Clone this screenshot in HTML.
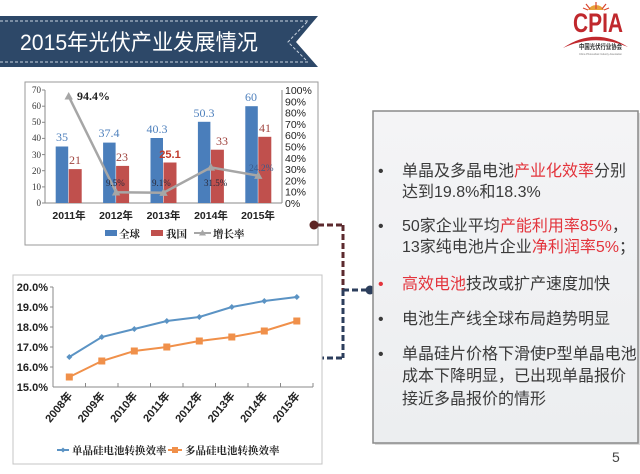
<!DOCTYPE html>
<html>
<head>
<meta charset="utf-8">
<style>
html,body{margin:0;padding:0;background:#fff;}
svg{display:block;}
.cj{font-family:"Liberation Sans","Noto Sans CJK SC",sans-serif;}
.sf{font-family:"Liberation Serif","Noto Serif CJK SC",serif;}
</style>
</head>
<body>
<svg width="640" height="474" viewBox="0 0 640 474" xmlns="http://www.w3.org/2000/svg">
<defs>
<linearGradient id="bg" x1="0" y1="0" x2="0" y2="1">
<stop offset="0" stop-color="#f4f4f6"/>
<stop offset="1" stop-color="#eceef0"/>
</linearGradient>
</defs>
<rect width="640" height="474" fill="#fff"/>

<!-- Banner -->
<polygon points="0,16 318,16 296,42 318,67 0,67" fill="#2d4868"/>
<line x1="0" y1="21" x2="308" y2="21" stroke="#c9d3df" stroke-width="1" stroke-dasharray="3,2"/>
<line x1="0" y1="62" x2="308" y2="62" stroke="#c9d3df" stroke-width="1" stroke-dasharray="3,2"/>
<polyline points="307,22 288,42 307,61" fill="none" stroke="#c9d3df" stroke-width="1" stroke-dasharray="3,2"/>
<text x="20" y="50" class="cj" font-size="22" fill="#fff" textLength="238" lengthAdjust="spacingAndGlyphs">2015年光伏产业发展情况</text>

<!-- Logo -->
<g>
<path d="M588,10 A9,9 0 0 1 604,10 Z" fill="#e8a33a"/>
<g stroke="#d9452f" stroke-width="1.2">
<line x1="596" y1="9" x2="596" y2="2"/>
<line x1="590" y1="9" x2="586" y2="4"/>
<line x1="602" y1="9" x2="606" y2="4"/>
<line x1="588" y1="10" x2="583" y2="8"/>
<line x1="604" y1="10" x2="609" y2="8"/>
</g>
<text x="573" y="32" font-family="Liberation Sans,sans-serif" font-weight="bold" font-size="27" fill="#c0282d" textLength="50" lengthAdjust="spacingAndGlyphs">CPIA</text>
<path d="M563,48 Q595,26 628,47 Q595,33 563,48 Z" fill="#c0282d"/>
<text x="579" y="49" class="cj" font-size="7" font-weight="bold" fill="#333" textLength="43" lengthAdjust="spacingAndGlyphs">中国光伏行业协会</text>
<text x="579" y="55" font-family="Liberation Sans,sans-serif" font-size="3" fill="#777" textLength="43" lengthAdjust="spacingAndGlyphs">China Photovoltaic Industry Association</text>
</g>

<!-- Top chart -->
<rect x="25" y="82" width="293" height="163" fill="#fff" stroke="#9a9a9a" stroke-width="1"/>
<g font-family="Liberation Serif,serif" font-size="9" fill="#333" text-anchor="end">
<text x="41" y="206">0</text>
<text x="41" y="190">10</text>
<text x="41" y="174">20</text>
<text x="41" y="158">30</text>
<text x="41" y="141">40</text>
<text x="41" y="125">50</text>
<text x="41" y="109">60</text>
<text x="41" y="93">70</text>
</g>
<g stroke="#888" stroke-width="1">
<line x1="45" y1="90" x2="45" y2="203"/>
<line x1="282" y1="90" x2="282" y2="203"/>
<line x1="45" y1="203" x2="282" y2="203"/>
<line x1="42" y1="203" x2="45" y2="203"/><line x1="42" y1="186.9" x2="45" y2="186.9"/><line x1="42" y1="170.7" x2="45" y2="170.7"/><line x1="42" y1="154.6" x2="45" y2="154.6"/><line x1="42" y1="138.4" x2="45" y2="138.4"/><line x1="42" y1="122.3" x2="45" y2="122.3"/><line x1="42" y1="106.2" x2="45" y2="106.2"/><line x1="42" y1="90" x2="45" y2="90"/>
</g>
<g font-family="Liberation Sans,sans-serif" font-size="10.5" fill="#222">
<text x="285" y="207">0%</text>
<text x="285" y="195.7">10%</text>
<text x="285" y="184.4">20%</text>
<text x="285" y="173.1">30%</text>
<text x="285" y="161.8">40%</text>
<text x="285" y="150.5">50%</text>
<text x="285" y="139.2">60%</text>
<text x="285" y="127.9">70%</text>
<text x="285" y="116.6">80%</text>
<text x="285" y="105.3">90%</text>
<text x="285" y="94">100%</text>
</g>
<!-- bars -->
<g fill="#4a7ebb">
<rect x="55.7" y="146.5" width="12.5" height="56.5"/>
<rect x="103.1" y="142.6" width="12.5" height="60.4"/>
<rect x="150.5" y="138" width="12.5" height="65"/>
<rect x="197.9" y="121.8" width="12.5" height="81.2"/>
<rect x="245.3" y="106.2" width="12.5" height="96.8"/>
</g>
<g fill="#c0504d">
<rect x="68.7" y="169.1" width="13" height="33.9"/>
<rect x="116.1" y="165.9" width="13" height="37.1"/>
<rect x="163.5" y="162.5" width="13" height="40.5"/>
<rect x="210.9" y="149.7" width="13" height="53.3"/>
<rect x="258.3" y="136.8" width="13" height="66.2"/>
</g>
<g class="sf" font-size="12" fill="#4f81bd" text-anchor="middle">
<text x="62" y="141">35</text>
<text x="109" y="137">37.4</text>
<text x="157" y="133">40.3</text>
<text x="204" y="117">50.3</text>
<text x="251" y="101">60</text>
</g>
<g class="sf" font-size="12" fill="#a0443f" text-anchor="middle">
<text x="75" y="164">21</text>
<text x="122" y="161">23</text>
<text x="222" y="145">33</text>
<text x="265" y="132">41</text>
</g>
<text x="170" y="158" font-family="Liberation Sans,sans-serif" font-weight="bold" font-size="11" fill="#c0392b" text-anchor="middle">25.1</text>
<!-- growth line -->
<polyline points="68.7,96.3 116.1,192.3 163.5,192.7 210.9,167.4 258.3,175.7" fill="none" stroke="#a6a6a6" stroke-width="2.5"/>
<g fill="#a6a6a6">
<polygon points="68.7,92 64.5,99.5 72.9,99.5"/>
<polygon points="116.1,188 111.9,195.5 120.3,195.5"/>
<polygon points="163.5,188.4 159.3,195.9 167.7,195.9"/>
<polygon points="210.9,163.1 206.7,170.6 215.1,170.6"/>
<polygon points="258.3,171.4 254.1,178.9 262.5,178.9"/>
</g>
<text x="77" y="100" class="sf" font-weight="bold" font-size="12" fill="#222">94.4%</text>
<g class="sf" font-size="9" fill="#2a2a3a">
<text x="106" y="186">9.5%</text>
<text x="152" y="186">9.1%</text>
<text x="204" y="186">31.5%</text>
</g>
<text x="249" y="171" class="sf" font-size="9.5" fill="#3a5a8a">24.2%</text>
<!-- categories -->
<g font-family="Liberation Sans,'Noto Sans CJK SC',sans-serif" font-weight="bold" font-size="10.5" fill="#222" text-anchor="middle">
<text x="69" y="219">2011年</text>
<text x="116" y="219">2012年</text>
<text x="163.5" y="219">2013年</text>
<text x="211" y="219">2014年</text>
<text x="258" y="219">2015年</text>
</g>
<!-- legend -->
<rect x="105" y="230" width="12" height="6" fill="#4a7ebb"/>
<text x="119" y="237.5" class="sf" font-weight="bold" font-size="10.5" fill="#222">全球</text>
<rect x="151" y="230" width="12" height="6" fill="#c0504d"/>
<text x="166" y="237.5" class="sf" font-weight="bold" font-size="10.5" fill="#222">我国</text>
<line x1="194" y1="233" x2="211" y2="233" stroke="#a6a6a6" stroke-width="2"/>
<polygon points="202.5,229.5 199,235.5 206,235.5" fill="#a6a6a6"/>
<text x="213" y="237.5" class="sf" font-weight="bold" font-size="10.5" fill="#222">增长率</text>

<!-- Connector -->
<g fill="none" stroke-width="3" stroke-dasharray="6,3">
<line x1="318" y1="225" x2="343" y2="225" stroke="#5c2a2e"/>
<line x1="343" y1="225" x2="343" y2="290" stroke="#5c2a2e"/>
<line x1="343" y1="290" x2="343" y2="358" stroke="#2c3e5c"/>
<line x1="343" y1="290" x2="368" y2="290" stroke="#2c3e5c"/>
<line x1="318" y1="358" x2="343" y2="358" stroke="#2c3e5c"/>
</g>
<circle cx="314" cy="225" r="4.5" fill="#5c2424"/>
<circle cx="370" cy="290" r="4.5" fill="#2c3e5c"/>
<circle cx="314" cy="358" r="4.5" fill="#2c3e5c"/>

<!-- Bottom chart -->
<rect x="13" y="275" width="309" height="189" fill="#fff" stroke="#c4c4c4" stroke-width="1"/>
<g font-family="Liberation Sans,sans-serif" font-weight="bold" font-size="11" fill="#222" text-anchor="end">
<text x="48" y="291">20.0%</text>
<text x="48" y="311">19.0%</text>
<text x="48" y="331">18.0%</text>
<text x="48" y="351">17.0%</text>
<text x="48" y="371">16.0%</text>
<text x="48" y="391">15.0%</text>
</g>
<g stroke="#888" stroke-width="1">
<line x1="53" y1="287" x2="53" y2="387"/>
<line x1="53" y1="387" x2="313" y2="387"/>
<line x1="50" y1="287" x2="53" y2="287"/><line x1="50" y1="307" x2="53" y2="307"/><line x1="50" y1="327" x2="53" y2="327"/><line x1="50" y1="347" x2="53" y2="347"/><line x1="50" y1="367" x2="53" y2="367"/>
<line x1="85.5" y1="383" x2="85.5" y2="387"/><line x1="118" y1="383" x2="118" y2="387"/><line x1="150.5" y1="383" x2="150.5" y2="387"/><line x1="183" y1="383" x2="183" y2="387"/><line x1="215.5" y1="383" x2="215.5" y2="387"/><line x1="248" y1="383" x2="248" y2="387"/><line x1="280.5" y1="383" x2="280.5" y2="387"/><line x1="313" y1="383" x2="313" y2="387"/>
</g>
<polyline points="69.3,357 101.8,337 134.3,329 166.8,321 199.3,317 231.8,307 264.3,301 296.8,297" fill="none" stroke="#5b93c4" stroke-width="2"/>
<g fill="#5b93c4">
<polygon points="69.3,354 72.3,357 69.3,360 66.3,357"/>
<polygon points="101.8,334 104.8,337 101.8,340 98.8,337"/>
<polygon points="134.3,326 137.3,329 134.3,332 131.3,329"/>
<polygon points="166.8,318 169.8,321 166.8,324 163.8,321"/>
<polygon points="199.3,314 202.3,317 199.3,320 196.3,317"/>
<polygon points="231.8,304 234.8,307 231.8,310 228.8,307"/>
<polygon points="264.3,298 267.3,301 264.3,304 261.3,301"/>
<polygon points="296.8,294 299.8,297 296.8,300 293.8,297"/>
</g>
<polyline points="69.3,377 101.8,361 134.3,351 166.8,347 199.3,341 231.8,337 264.3,331 296.8,321" fill="none" stroke="#f0904a" stroke-width="2"/>
<g fill="#f0904a">
<rect x="65.8" y="373.5" width="7" height="7"/>
<rect x="98.3" y="357.5" width="7" height="7"/>
<rect x="130.8" y="347.5" width="7" height="7"/>
<rect x="163.3" y="343.5" width="7" height="7"/>
<rect x="195.8" y="337.5" width="7" height="7"/>
<rect x="228.3" y="333.5" width="7" height="7"/>
<rect x="260.8" y="327.5" width="7" height="7"/>
<rect x="293.3" y="317.5" width="7" height="7"/>
</g>
<g font-family="Liberation Sans,'Noto Sans CJK SC',sans-serif" font-weight="bold" font-size="11" fill="#222" text-anchor="end">
<text transform="translate(73,396) rotate(-50)">2008年</text>
<text transform="translate(105.5,396) rotate(-50)">2009年</text>
<text transform="translate(138,396) rotate(-50)">2010年</text>
<text transform="translate(170.5,396) rotate(-50)">2011年</text>
<text transform="translate(203,396) rotate(-50)">2012年</text>
<text transform="translate(235.5,396) rotate(-50)">2013年</text>
<text transform="translate(268,396) rotate(-50)">2014年</text>
<text transform="translate(300.5,396) rotate(-50)">2015年</text>
</g>
<line x1="57" y1="450" x2="69" y2="450" stroke="#5b93c4" stroke-width="2"/>
<polygon points="63,447.5 65.5,450 63,452.5 60.5,450" fill="#5b93c4"/>
<text x="72" y="454" class="sf" font-weight="bold" font-size="10.5" fill="#222">单晶硅电池转换效率</text>
<line x1="168" y1="450" x2="182" y2="450" stroke="#f0904a" stroke-width="2"/>
<rect x="172" y="447" width="6" height="6" fill="#f0904a"/>
<text x="185" y="454" class="sf" font-weight="bold" font-size="10.5" fill="#222">多晶硅电池转换效率</text>

<!-- Text box -->
<rect x="375" y="113" width="265" height="332" fill="#9a9a9a" opacity="0.35"/>
<rect x="373" y="111" width="265" height="332" fill="url(#bg)" stroke="#8a8a8a" stroke-width="1.5"/>
<g class="cj" font-size="16" fill="#3a3a3a">
<text x="378" y="176">•</text>
<text x="402" y="176">单晶及多晶电池<tspan fill="#e3343c">产业化效率</tspan>分别</text>
<text x="402" y="197">达到19.8%和18.3%</text>
<text x="378" y="231">•</text>
<text x="402" y="231">50家企业平均<tspan fill="#e3343c">产能利用率85%</tspan>，</text>
<text x="402" y="252">13家纯电池片企业<tspan fill="#e3343c">净利润率5%</tspan>；</text>
<text x="378" y="289" fill="#e3343c">•</text>
<text x="402" y="289"><tspan fill="#e3343c">高效电池</tspan>技改或扩产速度加快</text>
<text x="378" y="324">•</text>
<text x="402" y="324">电池生产线全球布局趋势明显</text>
<text x="378" y="359">•</text>
<text x="402" y="359">单晶硅片价格下滑使P型单晶电池</text>
<text x="402" y="381">成本下降明显，已出现单晶报价</text>
<text x="402" y="404">接近多晶报价的情形</text>
</g>
<text x="612" y="462" font-family="Liberation Sans,sans-serif" font-size="14" fill="#444">5</text>
</svg>
</body>
</html>
